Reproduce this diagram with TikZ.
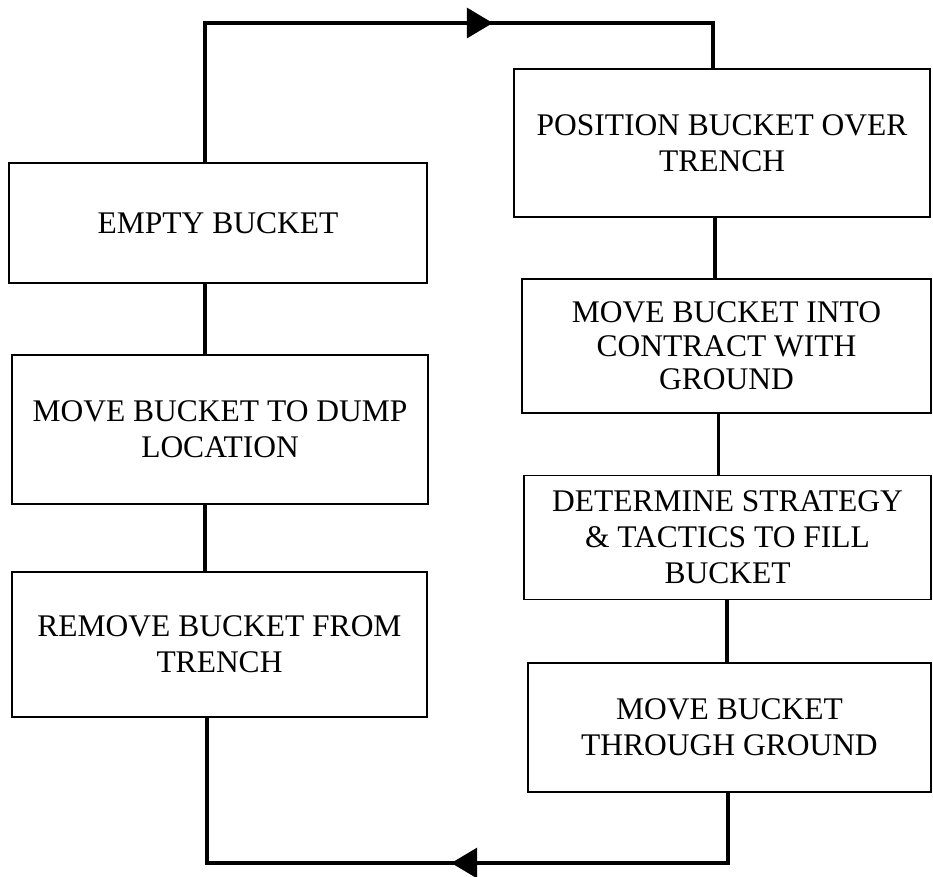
\documentclass[tikz,border=0pt]{standalone}
\usepackage{fontspec}
\setmainfont{Liberation Serif}
\usetikzlibrary{arrows.meta,decorations.markings}

\begin{document}
\begin{tikzpicture}[x=1pt,y=-1pt,
  stage/.style={draw,line width=1.6pt,inner sep=0pt,align=center,
    font=\fontsize{31.5}{36}\selectfont},
  link/.style={line width=3.5pt,line join=miter},
  tipat/.style={postaction={decorate,decoration={markings,
    mark=at position #1 with {\arrow{Triangle[length=26pt,width=30pt]}}}}}]
\useasboundingbox (0,0) rectangle (933,876);

% left column
\node[stage,minimum width=418pt,minimum height=120pt] (e) at (218,223) {EMPTY BUCKET};
\node[stage,minimum width=416pt,minimum height=149pt] (d) at (220,429.5) {MOVE BUCKET TO DUMP\\LOCATION};
\node[stage,minimum width=415pt,minimum height=145pt] (r) at (219.5,644.5) {REMOVE BUCKET FROM\\TRENCH};

% right column
\node[stage,minimum width=416pt,minimum height=148pt] (p) at (722,143) {POSITION BUCKET OVER\\TRENCH};
\node[stage,minimum width=409pt,minimum height=134pt,font=\fontsize{31.5}{33.5}\selectfont] (c) at (726.5,346) {MOVE BUCKET INTO\\CONTRACT WITH\\GROUND};
\node[stage,minimum width=407pt,minimum height=124pt,font=\fontsize{31.5}{36}\selectfont] (s) at (727.5,537.5) {DETERMINE STRATEGY\\\&\ TACTICS TO FILL\\BUCKET};
\node[stage,minimum width=403pt,minimum height=129pt] (g) at (729.5,727.5) {MOVE BUCKET\\THROUGH GROUND};

% connector columns and rails
\coordinate (lx) at (205,0);
\coordinate (lb) at (207,0);
\coordinate (rt) at (713,0);
\coordinate (r1) at (715,0);
\coordinate (r2) at (718.5,0);
\coordinate (r3) at (727,0);
\coordinate (rb) at (728,0);
\coordinate (top) at (0,23);
\coordinate (bot) at (0,863);

\draw[link] (e.south -| lx) -- (d.north -| lx);
\draw[link] (d.south -| lx) -- (r.north -| lx);
\draw[link] (p.south -| r1) -- (c.north -| r1);
\draw[link] (c.south -| r2) -- (s.north -| r2);
\draw[link] (s.south -| r3) -- (g.north -| r3);

% loop back over the top and under the bottom
\draw[link,tipat=427pt] (e.north -| lx) |- (top -| rt) -- (p.north -| rt);
\draw[link,tipat=347pt] (g.south -| rb) |- (bot -| lb) -- (r.south -| lb);
\end{tikzpicture}
\end{document}
